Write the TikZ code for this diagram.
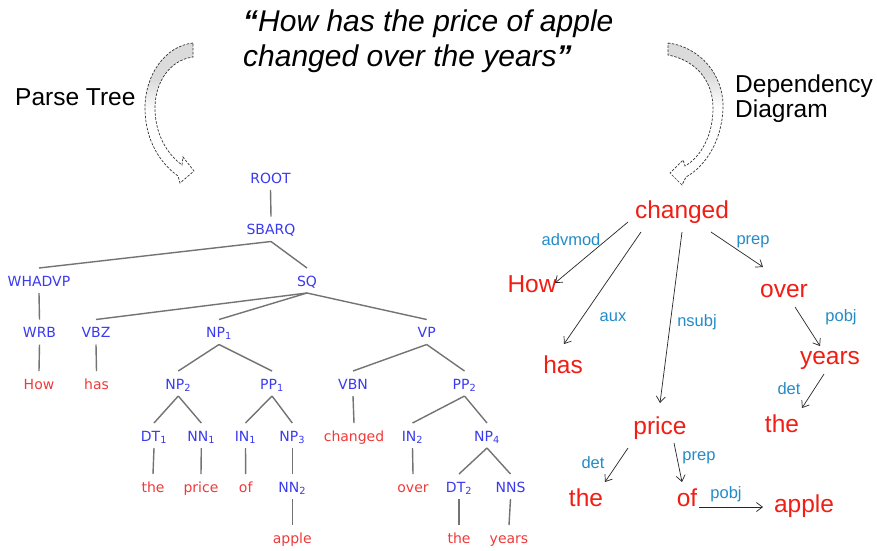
\documentclass[tikz,border=0pt]{standalone}
\usepackage{fontspec}
\setmainfont{Liberation Sans}
\newfontfamily\treefont{DejaVu Sans}
\usetikzlibrary{arrows.meta,calc}
\definecolor{treeblue}{RGB}{58,58,240}
\definecolor{treered}{RGB}{240,58,58}
\definecolor{depred}{RGB}{240,30,20}
\definecolor{depblue}{RGB}{35,140,200}
\definecolor{treeline}{RGB}{115,115,115}
\def\larrowpath{(193,43) .. controls (165,46) and (145,75) .. (145,108) .. controls (145,140) and (160,163) .. (178,176) -- (180,183) -- (194,171) -- (183,157) -- (182,165) .. controls (166,153) and (155,133) .. (155,108) .. controls (155,82) and (170,60) .. (193,57) -- cycle}
\def\rarrowpath{(668,43) .. controls (700,47) and (724,75) .. (723,108) .. controls (722,140) and (706,166) .. (686,177) -- (682,185) -- (670,173) -- (683,160) -- (685,166) .. controls (701,157) and (713,135) .. (713,108) .. controls (713,80) and (695,60) .. (668,55) -- cycle}
\begin{document}
\begin{tikzpicture}[x=1pt,y=-1pt,
  tn/.style={font=\treefont\fontsize{14}{16}\selectfont, text=treeblue, inner sep=0pt, anchor=base},
  tl/.style={tn, text=treered},
  te/.style={draw=treeline, line width=1.4pt},
  dw/.style={font=\fontsize{24.5}{28}\selectfont, text=depred, inner sep=0pt, anchor=base},
  dl/.style={font=\fontsize{16.5}{19}\selectfont, text=depblue, inner sep=0pt},
  dep/.style={draw=black!85, line width=0.7pt, -{Straight Barb[length=6pt,width=9pt]}},
  cdash/.style={draw=black!80, line width=0.7pt, dash pattern=on 2.5pt off 1.5pt},
  side/.style={font=\fontsize{24.5}{28}\selectfont, anchor=base west, inner sep=0pt},
  ttl/.style={font=\itshape\fontsize{30}{34}\selectfont, anchor=base west, inner sep=0pt}]
\useasboundingbox[fill=white] (0,0) rectangle (877,550);

% title and side labels
\node[ttl] (title1) at (243,31) {\textbf{“}How has the price of apple};
\node[ttl] (title2) at (243,66) {changed over the years\textbf{”}};
\node[side] (ptree) at (15,105) {Parse Tree};
\node[side] (dep1) at (735,92) {Dependency};
\node[side] (dep2) at (735,117) {Diagram};

% curved block arrows
\begin{scope}
  \clip \larrowpath;
  \fill[gray!28] (130,40) rectangle (200,80);
  \shade[top color=gray!28, bottom color=white] (130,80) rectangle (200,112);
\end{scope}
\path[cdash] \larrowpath;
\begin{scope}
  \clip \rarrowpath;
  \fill[gray!28] (660,40) rectangle (730,75);
  \shade[top color=gray!28, bottom color=white] (660,75) rectangle (730,108);
\end{scope}
\path[cdash] \rarrowpath;

% parse tree
\node[tn] (ROOT) at (270.5,183) {ROOT};
\node[tn] (SBARQ) at (271,234.5) {SBARQ};
\node[tn] (WHADVP) at (39,286) {WHADVP};
\node[tn] (SQ) at (307,286) {SQ};
\node[tn] (WRB) at (39.5,337.5) {WRB};
\node[tn] (VBZ) at (96,337.5) {VBZ};
\node[tn] (NP1) at (219,337.5) {NP\textsubscript{1}};
\node[tn] (VP) at (426.7,337.5) {VP};
\node[tl] (How) at (39,389) {How};
\node[tl] (has) at (96.5,389) {has};
\node[tn] (NP2) at (178.3,389) {NP\textsubscript{2}};
\node[tn] (PP1) at (272,389) {PP\textsubscript{1}};
\node[tn] (VBN) at (353,389) {VBN};
\node[tn] (PP2) at (464.5,389) {PP\textsubscript{2}};
\node[tn] (DT1) at (154,441) {DT\textsubscript{1}};
\node[tn] (NN1) at (201.3,441) {NN\textsubscript{1}};
\node[tn] (IN1) at (245.5,441) {IN\textsubscript{1}};
\node[tn] (NP3) at (292.3,441) {NP\textsubscript{3}};
\node[tl] (changedT) at (354,441) {changed};
\node[tn] (IN2) at (412.5,441) {IN\textsubscript{2}};
\node[tn] (NP4) at (487,441) {NP\textsubscript{4}};
\node[tl] (theA) at (153,492) {the};
\node[tl] (priceT) at (201,492) {price};
\node[tl] (ofT) at (245.7,492) {of};
\node[tn] (NN2) at (292.3,492) {NN\textsubscript{2}};
\node[tl] (overT) at (413,492) {over};
\node[tn] (DT2) at (459,492) {DT\textsubscript{2}};
\node[tn] (NNS) at (510.5,492) {NNS};
\node[tl] (appleT) at (292.3,543) {apple};
\node[tl] (theB) at (459,543) {the};
\node[tl] (yearsT) at (509,543) {years};

\foreach \a/\b in {ROOT/SBARQ, SBARQ/WHADVP, SBARQ/SQ, WHADVP/WRB, SQ/VBZ, SQ/NP1, SQ/VP,
  WRB/How, VBZ/has, NP1/NP2, NP1/PP1, VP/VBN, VP/PP2, NP2/DT1, NP2/NN1, PP1/IN1, PP1/NP3,
  VBN/changedT, PP2/IN2, PP2/NP4, DT1/theA, NN1/priceT, IN1/ofT, NP3/NN2, IN2/overT,
  NP4/DT2, NP4/NNS, NN2/appleT, DT2/theB, NNS/yearsT}
  \draw[te] ([yshift=-7pt]\a.base) -- ([yshift=18pt]\b.base);

% dependency diagram
\node[dw] (dChanged) at (682,218.5) {changed};
\node[dw] (dHow) at (532,292) {How};
\node[dw] (dHas) at (563,373.5) {has};
\node[dw] (dOver) at (784,297.5) {over};
\node[dw] (dYears) at (830,364.5) {years};
\node[dw] (dPrice) at (660,434.5) {price};
\node[dw] (dThe2) at (782,432.5) {the};
\node[dw] (dThe1) at (586,506) {the};
\node[dw] (dOf) at (687,506.5) {of};
\node[dw] (dApple) at (804,512.5) {apple};

\node[dl] (lAdvmod) at (571,240) {advmod};
\node[dl] (lAux) at (613,317) {aux};
\node[dl] (lNsubj) at (697,322) {nsubj};
\node[dl] (lPrep1) at (753,242) {prep};
\node[dl] (lPobj1) at (841,317) {pobj};
\node[dl] (lDet2) at (789,389) {det};
\node[dl] (lDet1) at (593,463) {det};
\node[dl] (lPrep2) at (699,458) {prep};
\node[dl] (lPobj2) at (726,494) {pobj};

\draw[dep] ([shift={(-54,3.5)}]dChanged.base) -- ([shift={(23,-9)}]dHow.base);
\draw[dep] ([shift={(-41,13.5)}]dChanged.base) -- ([shift={(1,-29.5)}]dHas.base);
\draw[dep] ([shift={(0,13.5)}]dChanged.base) -- ([shift={(0,-31.5)}]dPrice.base);
\draw[dep] ([shift={(29,13.5)}]dChanged.base) -- ([shift={(-21,-30.5)}]dOver.base);
\draw[dep] ([shift={(11,9.5)}]dOver.base) -- ([shift={(-10,-18.5)}]dYears.base);
\draw[dep] ([shift={(-6,9.5)}]dYears.base) -- ([shift={(20,-24.5)}]dThe2.base);
\draw[dep] ([shift={(-32,13.5)}]dPrice.base) -- ([shift={(19,-24)}]dThe1.base);
\draw[dep] ([shift={(14,8.5)}]dPrice.base) -- ([shift={(-5,-24.5)}]dOf.base);
\draw[dep] ([shift={(12,0.5)}]dOf.base) -- ([shift={(-41,-5.5)}]dApple.base);
\end{tikzpicture}
\end{document}
